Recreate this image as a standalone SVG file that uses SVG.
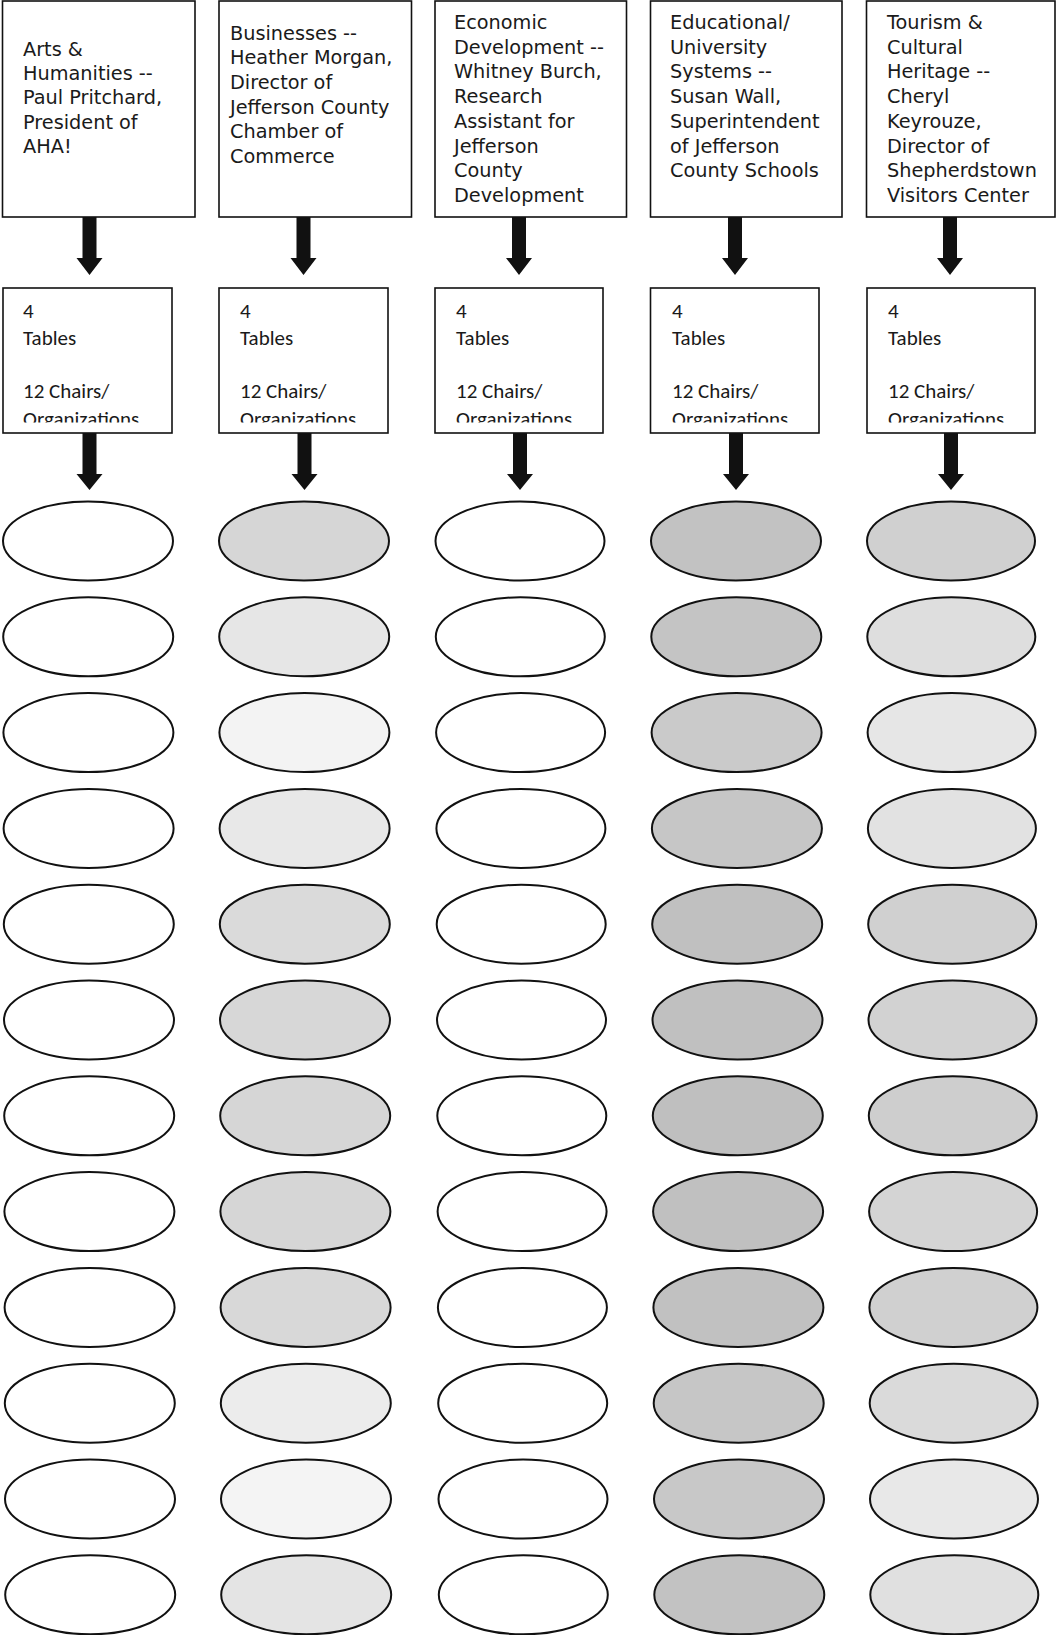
<svg xmlns="http://www.w3.org/2000/svg" width="1056" height="1635" viewBox="0 0 1056 1635">
<style>
.box{fill:#fff;stroke:#111;stroke-width:1.6}
.t1{font-family:"DejaVu Sans",sans-serif;font-size:19.3px;fill:#1a1a1a}
.t2{font-family:Carlito,Lato,"Open Sans",sans-serif;font-size:21px;fill:#1a1a1a}
.arr{fill:#111}
.el{stroke:#111;stroke-width:2}
</style>
<defs>
<clipPath id="c2"><rect x="0" y="280" width="1056" height="142.5"/></clipPath>
</defs>
<rect width="1056" height="1635" fill="#fff"/>

<g id="n-arts">
<rect class="box" x="2.5" y="1" width="192.5" height="216"/>
<text class="t1"><tspan x="23" y="56">Arts &amp;</tspan><tspan x="23" y="80.2">Humanities --</tspan><tspan x="23" y="104.4">Paul Pritchard,</tspan><tspan x="23" y="128.6">President of</tspan><tspan x="23" y="152.8">AHA!</tspan></text>
</g>
<g id="n-business">
<rect class="box" x="219" y="1" width="192.5" height="216"/>
<text class="t1"><tspan x="230" y="39.5">Businesses --</tspan><tspan x="230" y="64.2">Heather Morgan,</tspan><tspan x="230" y="88.9">Director of</tspan><tspan x="230" y="113.6">Jefferson County</tspan><tspan x="230" y="138.3">Chamber of</tspan><tspan x="230" y="163">Commerce</tspan></text>
</g>
<g id="n-econ">
<rect class="box" x="435" y="1" width="191.5" height="216"/>
<text class="t1"><tspan x="454" y="29">Economic</tspan><tspan x="454" y="53.7">Development --</tspan><tspan x="454" y="78.4">Whitney Burch,</tspan><tspan x="454" y="103.1">Research</tspan><tspan x="454" y="127.8">Assistant for</tspan><tspan x="454" y="152.5">Jefferson</tspan><tspan x="454" y="177.2">County</tspan><tspan x="454" y="201.9">Development</tspan></text>
</g>
<g id="n-edu">
<rect class="box" x="650.5" y="1" width="191.5" height="216"/>
<text class="t1"><tspan x="670" y="29">Educational/</tspan><tspan x="670" y="53.7">University</tspan><tspan x="670" y="78.4">Systems --</tspan><tspan x="670" y="103.1">Susan Wall,</tspan><tspan x="670" y="127.8">Superintendent</tspan><tspan x="670" y="152.5">of Jefferson</tspan><tspan x="670" y="177.2">County Schools</tspan></text>
</g>
<g id="n-tourism">
<rect class="box" x="866.5" y="1" width="188.5" height="216"/>
<text class="t1"><tspan x="887" y="29">Tourism &amp;</tspan><tspan x="887" y="53.7">Cultural</tspan><tspan x="887" y="78.4">Heritage --</tspan><tspan x="887" y="103.1">Cheryl</tspan><tspan x="887" y="127.8">Keyrouze,</tspan><tspan x="887" y="152.5">Director of</tspan><tspan x="887" y="177.2">Shepherdstown</tspan><tspan x="887" y="201.9">Visitors Center</tspan></text>
</g>

<g id="n-tables1">
<rect class="box" x="3" y="288" width="169" height="145"/>
<text class="t2" clip-path="url(#c2)"><tspan x="23" y="318">4</tspan><tspan x="23" y="345">Tables</tspan><tspan x="23" y="398">12 Chairs/</tspan><tspan x="23" y="425.5">Organizations</tspan></text>
</g>
<g id="n-tables2">
<rect class="box" x="219" y="288" width="169" height="145"/>
<text class="t2" clip-path="url(#c2)"><tspan x="240" y="318">4</tspan><tspan x="240" y="345">Tables</tspan><tspan x="240" y="398">12 Chairs/</tspan><tspan x="240" y="425.5">Organizations</tspan></text>
</g>
<g id="n-tables3">
<rect class="box" x="435" y="288" width="168" height="145"/>
<text class="t2" clip-path="url(#c2)"><tspan x="456" y="318">4</tspan><tspan x="456" y="345">Tables</tspan><tspan x="456" y="398">12 Chairs/</tspan><tspan x="456" y="425.5">Organizations</tspan></text>
</g>
<g id="n-tables4">
<rect class="box" x="650.5" y="288" width="168.5" height="145"/>
<text class="t2" clip-path="url(#c2)"><tspan x="672" y="318">4</tspan><tspan x="672" y="345">Tables</tspan><tspan x="672" y="398">12 Chairs/</tspan><tspan x="672" y="425.5">Organizations</tspan></text>
</g>
<g id="n-tables5">
<rect class="box" x="867" y="288" width="168" height="145"/>
<text class="t2" clip-path="url(#c2)"><tspan x="888" y="318">4</tspan><tspan x="888" y="345">Tables</tspan><tspan x="888" y="398">12 Chairs/</tspan><tspan x="888" y="425.5">Organizations</tspan></text>
</g>

<g id="connectors">
<polygon class="arr" points="82.5,217 96.5,217 96.5,258 102.5,258 89.5,275 76.5,258 82.5,258"/>
<polygon class="arr" points="296.5,217 310.5,217 310.5,258 316.5,258 303.5,275 290.5,258 296.5,258"/>
<polygon class="arr" points="512,217 526,217 526,258 532,258 519,275 506,258 512,258"/>
<polygon class="arr" points="728,217 742,217 742,258 748,258 735,275 722,258 728,258"/>
<polygon class="arr" points="943,217 957,217 957,258 963,258 950,275 937,258 943,258"/>
<polygon class="arr" points="82.5,433 96.5,433 96.5,474 102.5,474 89.5,490 76.5,474 82.5,474"/>
<polygon class="arr" points="297.5,433 311.5,433 311.5,474 317.5,474 304.5,490 291.5,474 297.5,474"/>
<polygon class="arr" points="513,433 527,433 527,474 533,474 520,490 507,474 513,474"/>
<polygon class="arr" points="729,433 743,433 743,474 749,474 736,490 723,474 729,474"/>
<polygon class="arr" points="944,433 958,433 958,474 964,474 951,490 938,474 944,474"/>
</g>

<g id="chairs-arts" class="el" fill="#fff">
<ellipse cx="88" cy="541" rx="85" ry="39.5"/>
<ellipse cx="88.2" cy="636.8" rx="85" ry="39.5"/>
<ellipse cx="88.4" cy="732.6" rx="85" ry="39.5"/>
<ellipse cx="88.6" cy="828.4" rx="85" ry="39.5"/>
<ellipse cx="88.8" cy="924.2" rx="85" ry="39.5"/>
<ellipse cx="89" cy="1020" rx="85" ry="39.5"/>
<ellipse cx="89.2" cy="1115.8" rx="85" ry="39.5"/>
<ellipse cx="89.4" cy="1211.6" rx="85" ry="39.5"/>
<ellipse cx="89.6" cy="1307.4" rx="85" ry="39.5"/>
<ellipse cx="89.8" cy="1403.2" rx="85" ry="39.5"/>
<ellipse cx="90" cy="1499" rx="85" ry="39.5"/>
<ellipse cx="90.2" cy="1594.8" rx="85" ry="39.5"/>
</g>
<g id="chairs-business" class="el">
<ellipse cx="304" cy="541" rx="85" ry="39.5" fill="#d6d6d6"/>
<ellipse cx="304.2" cy="636.8" rx="85" ry="39.5" fill="#e6e6e6"/>
<ellipse cx="304.4" cy="732.6" rx="85" ry="39.5" fill="#f3f3f3"/>
<ellipse cx="304.6" cy="828.4" rx="85" ry="39.5" fill="#e8e8e8"/>
<ellipse cx="304.8" cy="924.2" rx="85" ry="39.5" fill="#dadada"/>
<ellipse cx="305" cy="1020" rx="85" ry="39.5" fill="#d7d7d7"/>
<ellipse cx="305.2" cy="1115.8" rx="85" ry="39.5" fill="#d6d6d6"/>
<ellipse cx="305.4" cy="1211.6" rx="85" ry="39.5" fill="#d6d6d6"/>
<ellipse cx="305.6" cy="1307.4" rx="85" ry="39.5" fill="#d8d8d8"/>
<ellipse cx="305.8" cy="1403.2" rx="85" ry="39.5" fill="#ececec"/>
<ellipse cx="306" cy="1499" rx="85" ry="39.5" fill="#f4f4f4"/>
<ellipse cx="306.2" cy="1594.8" rx="85" ry="39.5" fill="#e4e4e4"/>
</g>
<g id="chairs-econ" class="el" fill="#fff">
<ellipse cx="520" cy="541" rx="84.5" ry="39.5"/>
<ellipse cx="520.3" cy="636.8" rx="84.5" ry="39.5"/>
<ellipse cx="520.6" cy="732.6" rx="84.5" ry="39.5"/>
<ellipse cx="520.9" cy="828.4" rx="84.5" ry="39.5"/>
<ellipse cx="521.2" cy="924.2" rx="84.5" ry="39.5"/>
<ellipse cx="521.5" cy="1020" rx="84.5" ry="39.5"/>
<ellipse cx="521.8" cy="1115.8" rx="84.5" ry="39.5"/>
<ellipse cx="522.1" cy="1211.6" rx="84.5" ry="39.5"/>
<ellipse cx="522.4" cy="1307.4" rx="84.5" ry="39.5"/>
<ellipse cx="522.7" cy="1403.2" rx="84.5" ry="39.5"/>
<ellipse cx="523" cy="1499" rx="84.5" ry="39.5"/>
<ellipse cx="523.3" cy="1594.8" rx="84.5" ry="39.5"/>
</g>
<g id="chairs-edu" class="el">
<ellipse cx="736" cy="541" rx="85" ry="39.5" fill="#c2c2c2"/>
<ellipse cx="736.3" cy="636.8" rx="85" ry="39.5" fill="#c4c4c4"/>
<ellipse cx="736.6" cy="732.6" rx="85" ry="39.5" fill="#cacaca"/>
<ellipse cx="736.9" cy="828.4" rx="85" ry="39.5" fill="#c6c6c6"/>
<ellipse cx="737.2" cy="924.2" rx="85" ry="39.5" fill="#c0c0c0"/>
<ellipse cx="737.5" cy="1020" rx="85" ry="39.5" fill="#c0c0c0"/>
<ellipse cx="737.8" cy="1115.8" rx="85" ry="39.5" fill="#bfbfbf"/>
<ellipse cx="738.1" cy="1211.6" rx="85" ry="39.5" fill="#c0c0c0"/>
<ellipse cx="738.4" cy="1307.4" rx="85" ry="39.5" fill="#c1c1c1"/>
<ellipse cx="738.7" cy="1403.2" rx="85" ry="39.5" fill="#c6c6c6"/>
<ellipse cx="739" cy="1499" rx="85" ry="39.5" fill="#c8c8c8"/>
<ellipse cx="739.3" cy="1594.8" rx="85" ry="39.5" fill="#c2c2c2"/>
</g>
<g id="chairs-tourism" class="el">
<ellipse cx="951" cy="541" rx="84" ry="39.5" fill="#d0d0d0"/>
<ellipse cx="951.3" cy="636.8" rx="84" ry="39.5" fill="#dedede"/>
<ellipse cx="951.6" cy="732.6" rx="84" ry="39.5" fill="#e6e6e6"/>
<ellipse cx="951.9" cy="828.4" rx="84" ry="39.5" fill="#e2e2e2"/>
<ellipse cx="952.2" cy="924.2" rx="84" ry="39.5" fill="#d0d0d0"/>
<ellipse cx="952.5" cy="1020" rx="84" ry="39.5" fill="#d2d2d2"/>
<ellipse cx="952.8" cy="1115.8" rx="84" ry="39.5" fill="#cecece"/>
<ellipse cx="953.1" cy="1211.6" rx="84" ry="39.5" fill="#d4d4d4"/>
<ellipse cx="953.4" cy="1307.4" rx="84" ry="39.5" fill="#d0d0d0"/>
<ellipse cx="953.7" cy="1403.2" rx="84" ry="39.5" fill="#dadada"/>
<ellipse cx="954" cy="1499" rx="84" ry="39.5" fill="#e8e8e8"/>
<ellipse cx="954.3" cy="1594.8" rx="84" ry="39.5" fill="#e0e0e0"/>
</g>
</svg>
